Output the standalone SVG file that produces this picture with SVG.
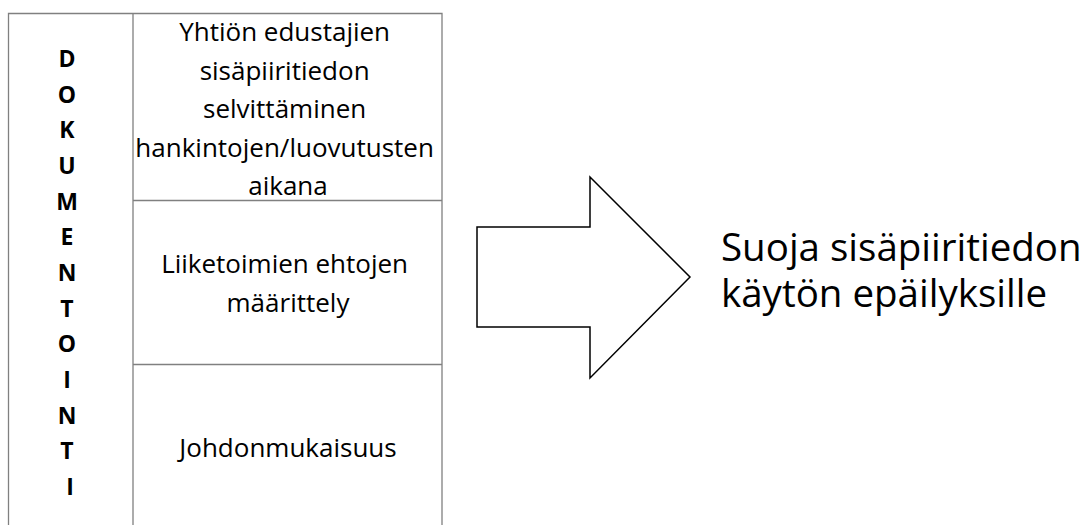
<svg xmlns="http://www.w3.org/2000/svg" width="1088" height="525" viewBox="0 0 1088 525">
<style>
.grid{stroke:#808080;stroke-width:1.3;fill:none}
.cell{font-family:"Open Sans","Noto Sans",sans-serif;font-size:26px;fill:#000;text-anchor:middle}
.vert{font-family:"Open Sans","Noto Sans",sans-serif;font-size:23px;font-weight:700;fill:#000;text-anchor:middle}
.big{font-family:"Open Sans","Noto Sans",sans-serif;font-size:38.5px;fill:#000}
</style>
<rect width="1088" height="525" fill="#fff"/>
<g id="table">
<path class="grid" d="M8.5,526 V13.5 H442 V526 M133,13.5 V526 M133,200.5 H442 M133,364.5 H442"/>
</g>
<g id="dokumentointi">
<text class="vert" x="70">
<tspan x="70" y="67">D</tspan>
<tspan x="70" y="102.7">O</tspan>
<tspan x="70" y="138.3">K</tspan>
<tspan x="70" y="174">U</tspan>
<tspan x="70" y="209.7">M</tspan>
<tspan x="70" y="245.3">E</tspan>
<tspan x="70" y="281">N</tspan>
<tspan x="70" y="316.7">T</tspan>
<tspan x="70" y="352.3">O</tspan>
<tspan x="70" y="388">I</tspan>
<tspan x="70" y="423.7">N</tspan>
<tspan x="70" y="459.3">T</tspan>
<tspan x="70" y="495">I</tspan>
</text>
</g>
<g id="cell1">
<text class="cell">
<tspan x="288" y="41">Yhtiön edustajien</tspan>
<tspan x="288" y="79.5">sisäpiiritiedon</tspan>
<tspan x="288" y="118">selvittäminen</tspan>
<tspan x="288" y="156.5">hankintojen/luovutusten</tspan>
<tspan x="288" y="195">aikana</tspan>
</text>
</g>
<g id="cell2">
<text class="cell">
<tspan x="288" y="273">Liiketoimien ehtojen</tspan>
<tspan x="288" y="312">määrittely</tspan>
</text>
</g>
<g id="cell3">
<text class="cell" x="288" y="457">Johdonmukaisuus</text>
</g>
<g id="connectors">
<path id="arrow" d="M477,227 H590 V177 L690,277 L590,378 V327 H477 Z" fill="#fff" stroke="#000" stroke-width="1.5" stroke-linejoin="miter"/>
</g>
<g id="result">
<text class="big">
<tspan x="721" y="261">Suoja sisäpiiritiedon</tspan>
<tspan x="721" y="307">käytön epäilyksille</tspan>
</text>
</g>
</svg>
